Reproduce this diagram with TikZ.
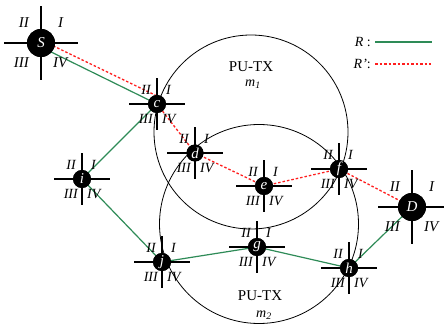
\documentclass[tikz,border=0pt]{standalone}
\usepackage{fontspec}
\setmainfont{Liberation Serif}
\pgfdeclarelayer{back}
\pgfdeclarelayer{edges}
\pgfsetlayers{back,edges,main}
\definecolor{rgreen}{RGB}{46,139,87}
\definecolor{rred}{RGB}{255,30,30}
\tikzset{
 dot/.style={circle, fill=black, inner sep=0pt, text=white, font=\fontsize{15}{15}\selectfont\itshape},
 arm/.style={line width=1.6pt, black},
 ql/.style={inner sep=0pt, font=\fontsize{14}{14}\selectfont\itshape},
 qb/.style={inner sep=0pt, font=\fontsize{15}{15}\selectfont\itshape},
 gpath/.style={rgreen, line width=1.2pt},
 rpath/.style={rred, line width=1.3pt, dash pattern=on 2.5pt off 2pt},
 zone/.style={circle, draw, line width=0.8pt, inner sep=0pt},
 zlabel/.style={inner sep=0pt, font=\fontsize{15}{15}\selectfont},
 legtext/.style={inner sep=0pt, font=\fontsize{14}{14}\selectfont},
}
\newcommand{\router}[6]{%
 \node[dot, minimum size=#4] (#1) at (#2) {#3};
 \draw[arm] ([xshift=-#5]#1.center) -- ([xshift=#5]#1.center);
 \draw[arm] ([yshift=-#6]#1.center) -- ([yshift=#6]#1.center);
 \node[dot, minimum size=#4] at (#1.center) {#3};
}
\newcommand{\smallq}[1]{%
 \node[ql, anchor=base east] (#1-II) at ([shift={(-6pt,9pt)}]#1.center) {II};
 \node[ql, anchor=base west] (#1-I) at ([shift={(9pt,9pt)}]#1.center) {I};
 \node[ql, anchor=north east] (#1-III) at ([shift={(-4pt,-10pt)}]#1.center) {III};
 \node[ql, anchor=north west] (#1-IV) at ([shift={(5pt,-10pt)}]#1.center) {IV};
}
\newcommand{\bigq}[1]{%
 \node[qb, anchor=base east] (#1-II) at ([shift={(-12pt,15.5pt)}]#1.center) {II};
 \node[qb, anchor=base west] (#1-I) at ([shift={(17pt,15.5pt)}]#1.center) {I};
 \node[qb, anchor=north east] (#1-III) at ([shift={(-12pt,-14.5pt)}]#1.center) {III};
 \node[qb, anchor=north west] (#1-IV) at ([shift={(12pt,-14pt)}]#1.center) {IV};
}
\begin{document}
\begin{tikzpicture}[x=1pt,y=-1pt]
\useasboundingbox (0,0) rectangle (444,328);
\begin{pgfonlayer}{back}
 \node[zone, minimum size=194pt] (m1) at (251,132) {};
 \node[zone, minimum size=199pt] (m2) at (259,224) {};
\end{pgfonlayer}
\node[zlabel] (pu1) at (251,67) {PU-TX};
\node[legtext] (m1t) at (253,84) {\textit{m}\textsubscript{\textit{1}}};
\node[zlabel] (pu2) at (260,296) {PU-TX};
\node[legtext] (m2t) at (264,315) {\textit{m}\textsubscript{\textit{2}}};

\router{S}{41,43}{S}{28pt}{37pt}{37pt}
\router{D}{412,207}{D}{28pt}{34pt}{37pt}
\router{c}{157,104}{c}{18pt}{28pt}{26pt}
\router{d}{195,153}{d}{17pt}{28pt}{26pt}
\router{e}{264,186}{e}{18pt}{28pt}{26pt}
\router{f}{339,169}{f}{18pt}{28pt}{26pt}
\router{i}{82,179}{i}{18pt}{28pt}{26pt}
\router{j}{162,262}{j}{18pt}{28pt}{26pt}
\router{g}{257,247}{g}{18pt}{28pt}{26pt}
\router{h}{349,268}{h}{18pt}{28pt}{26pt}
\bigq{S}\bigq{D}
\smallq{c}\smallq{d}\smallq{e}\smallq{f}\smallq{i}\smallq{j}\smallq{g}\smallq{h}

\begin{pgfonlayer}{edges}
 \draw[gpath] ([yshift=-4pt]S.center) -- (c.center) -- (i.center) -- (j.center) -- (g.center) -- (h.center) -- (D.center);
 \draw[rpath] ([yshift=3pt]S.center) -- ([yshift=8pt]c.center);
 \draw[rpath] (c.center) -- (d.center) -- (e.center) -- (f.center) -- (D.center);
\end{pgfonlayer}

\node[legtext, anchor=east] (lR) at (371,42) {\textit{R} :};
\node[legtext, anchor=east] (lRp) at (371,64) {\textit{R'}:};
\coordinate (lg1) at (375,42); \coordinate (lg2) at (432,42);
\coordinate (lr1) at (375,64); \coordinate (lr2) at (431,64);
\draw[gpath] (lg1) -- (lg2);
\draw[rpath] (lr1) -- (lr2);
\end{tikzpicture}
\end{document}
